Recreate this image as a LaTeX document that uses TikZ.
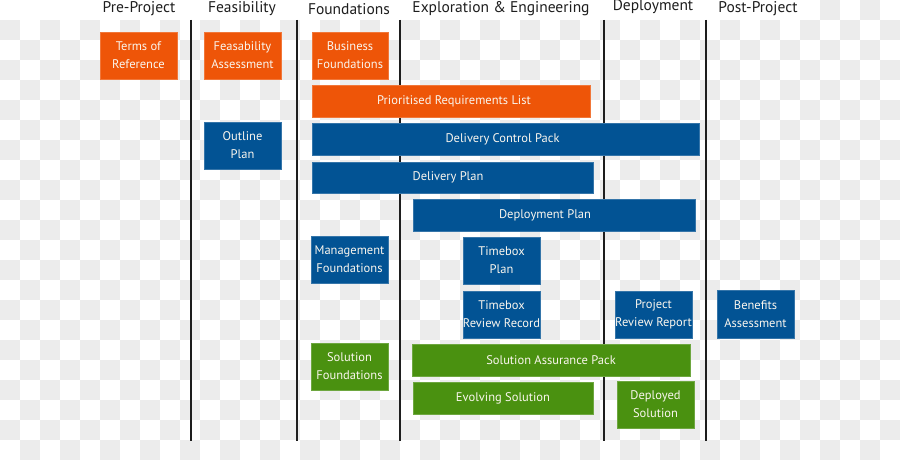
\documentclass[tikz,border=0pt]{standalone}
\usepackage{fontspec}
\setmainfont{PT Sans}
\definecolor{dsorange}{RGB}{238,85,8}
\definecolor{dsblue}{RGB}{2,83,148}
\definecolor{dsgreen}{RGB}{74,145,16}
\definecolor{chk}{RGB}{236,236,236}
\definecolor{linec}{RGB}{30,30,30}
\definecolor{boxtext}{RGB}{250,246,238}
\tikzset{
  phasebox/.style={rectangle, inner sep=0pt, align=center, text=boxtext,
    font=\fontsize{12.5}{18}\selectfont, line width=0.6pt},
  obox/.style={phasebox, fill=dsorange, draw=dsorange!80!white},
  bbox/.style={phasebox, fill=dsblue, draw=dsblue!80!white},
  gbox/.style={phasebox, fill=dsgreen, draw=dsgreen!80!white},
  header/.style={inner sep=0pt, text=linec, font=\fontsize{15.5}{18}\selectfont},
  divider/.style={draw=linec, line width=1.6pt},
}
\begin{document}
\begin{tikzpicture}[x=1pt,y=-1pt]
\useasboundingbox (0,0) rectangle (900,460);
% background checkerboard
\fill[white] (0,0) rectangle (900,460);
\foreach \j in {0,...,22}{
  \foreach \i in {0,...,44}{
    \pgfmathtruncatemacro\chkpar{mod(\i+\j,2)}
    \ifnum\chkpar=1 \fill[chk] (\i*20,\j*20) rectangle ++(20,20); \fi
  }
}
\fill[white] (0,0) rectangle (800,20);
% dividers
\foreach \n/\x in {d1/191,d2/297,d3/400,d4/604,d5/706}{
  \coordinate (\n t) at (\x,20);
  \coordinate (\n b) at (\x,441);
  \draw[divider] (\n t) -- (\n b);
}
% headers
\node[header] (h1) at (139,9) {Pre-Project};
\node[header] (h2) at (242,9) {Feasibility};
\node[header] (h3) at (349,9) {Foundations};
\node[header] (h4) at (501,9) {Exploration \& Engineering};
\node[header] (h5) at (653,7) {Deployment};
\node[header] (h6) at (758,9) {Post-Project};
% boxes
\node[obox, minimum width=77pt, minimum height=47pt] (tor) at (138.5,55.5) {Terms of\\Reference};
\node[obox, minimum width=77pt, minimum height=47pt] (fea) at (242.5,55.5) {Feasability\\Assessment};
\node[obox, minimum width=76pt, minimum height=47pt] (bf) at (350,55.5) {Business\\Foundations};
\node[obox, minimum width=278pt, minimum height=32pt] (prl) at (451,101) {\hspace*{6pt}Prioritised Requirements List};
\node[bbox, minimum width=77pt, minimum height=47pt] (op) at (242.5,145.5) {Outline\\Plan};
\node[bbox, minimum width=387pt, minimum height=32pt] (dcp) at (505.5,139.5) {Delivery Control Pack\hspace*{6pt}};
\node[bbox, minimum width=281pt, minimum height=31pt] (dp) at (452.5,177.5) {Delivery Plan\hspace*{9pt}};
\node[bbox, minimum width=282pt, minimum height=32pt] (depp) at (554,215) {Deployment Plan\hspace*{18pt}};
\node[bbox, minimum width=77pt, minimum height=47pt] (mf) at (349.5,259.5) {Management\\Foundations};
\node[bbox, minimum width=77pt, minimum height=47pt] (tp) at (501.5,260.5) {Timebox\\Plan};
\node[bbox, minimum width=77pt, minimum height=47pt] (trr) at (501.5,314.5) {Timebox\\Review Record};
\node[bbox, minimum width=77pt, minimum height=47pt] (prr) at (653.5,314.5) {Project\\Review Report};
\node[bbox, minimum width=77pt, minimum height=48pt] (ba) at (755.5,314) {Benefits\\Assessment};
\node[gbox, minimum width=77pt, minimum height=47pt] (sf) at (349.5,366.5) {Solution\\Foundations};
\node[gbox, minimum width=278pt, minimum height=32pt] (sap) at (551,360) {Solution Assurance Pack};
\node[gbox, minimum width=180pt, minimum height=32pt] (es) at (503,398) {Evolving Solution};
\node[gbox, minimum width=77pt, minimum height=47pt] (ds) at (655.5,404.5) {Deployed\\Solution};
\end{tikzpicture}
\end{document}
